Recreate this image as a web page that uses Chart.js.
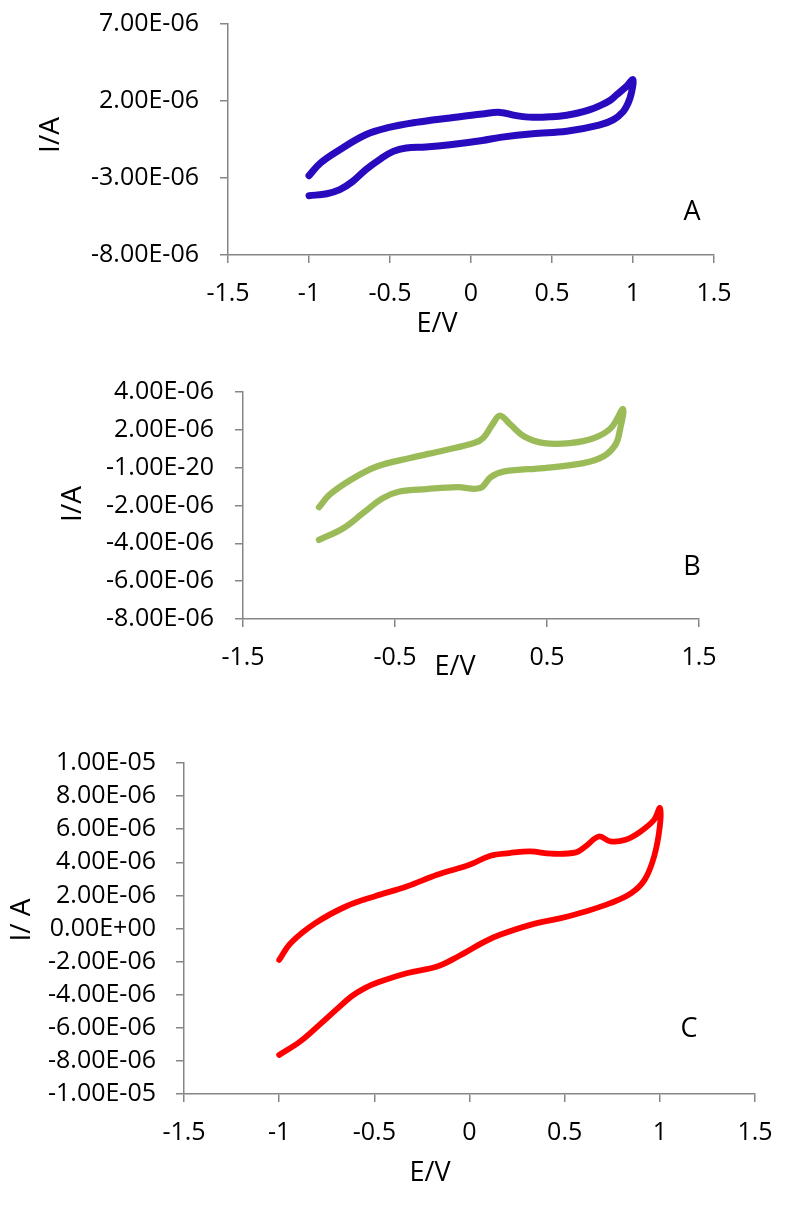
<!DOCTYPE html>
<html lang="en">
<head>
<meta charset="UTF-8">
<title>Voltammograms A, B, C</title>
<style>
  body { margin: 0; background: #fff; width: 800px; height: 1226px; position: relative; overflow: hidden; }
  canvas { position: absolute; left: 0; }
</style>
</head>
<body>
<canvas id="chartA" width="800" height="361" style="top:-16px"></canvas>
<canvas id="chartB" width="800" height="350" style="top:350px"></canvas>
<canvas id="chartC" width="800" height="506" style="top:720px"></canvas>

<script src="https://cdn.jsdelivr.net/npm/chart.js@4.4.0/dist/chart.umd.min.js"></script>
<script>
// potentials in V, currents in microamps (converted to A when the datasets are built)
const eA = [-1.00, -0.93, -0.81, -0.65, -0.52, -0.34, -0.13, 0.07, 0.18, 0.28, 0.38, 0.50, 0.59, 0.66, 0.73, 0.80, 0.86, 0.90, 0.96, 1.00,
            0.99, 0.97, 0.94, 0.88, 0.79, 0.59, 0.38, 0.18, 0.07, -0.13, -0.28, -0.40, -0.48, -0.56, -0.65, -0.73, -0.81, -0.89, -1.00];
const iA = [-2.85, -2.03, -1.16, -0.19, 0.25, 0.61, 0.90, 1.16, 1.26, 1.05, 0.94, 0.98, 1.08, 1.22, 1.42, 1.72, 2.05, 2.41, 2.95, 3.38,
            2.52, 1.87, 1.32, 0.79, 0.43, 0.03, -0.12, -0.36, -0.56, -0.84, -0.99, -1.05, -1.27, -1.77, -2.46, -3.22, -3.76, -4.02, -4.15];

const eB = [-1.00, -0.93, -0.79, -0.62, -0.40, -0.18, 0.02, 0.08, 0.14, 0.19, 0.26, 0.35, 0.48, 0.65, 0.81, 0.92, 1.00,
            0.98, 0.95, 0.87, 0.74, 0.48, 0.22, 0.13, 0.06, -0.09, -0.29, -0.47, -0.58, -0.71, -0.84, -1.00];
const iB = [-2.09, -1.43, -0.64, 0.06, 0.51, 0.91, 1.30, 1.57, 2.27, 2.75, 2.27, 1.65, 1.30, 1.30, 1.57, 2.09, 3.10,
            2.00, 1.21, 0.59, 0.24, -0.02, -0.20, -0.50, -1.08, -1.03, -1.13, -1.26, -1.61, -2.40, -3.20, -3.82];

const eC = [-1.00, -0.94, -0.81, -0.65, -0.50, -0.33, -0.17, 0.00, 0.11, 0.21, 0.32, 0.43, 0.56, 0.61, 0.68, 0.74, 0.82, 0.90, 0.97, 1.00,
            1.00, 0.97, 0.92, 0.85, 0.74, 0.61, 0.48, 0.32, 0.16, 0.08, -0.06, -0.17, -0.33, -0.48, -0.55, -0.62, -0.70, -0.78, -0.89, -1.00];
const iC = [-1.90, -0.89, 0.32, 1.33, 1.94, 2.54, 3.25, 3.85, 4.40, 4.56, 4.66, 4.52, 4.60, 4.96, 5.56, 5.26, 5.36, 5.87, 6.57, 7.28,
            6.17, 4.35, 2.94, 2.14, 1.53, 1.03, 0.63, 0.22, -0.38, -0.79, -1.69, -2.30, -2.70, -3.25, -3.60, -4.10, -4.90, -5.73, -6.83, -7.64];

// axis ticks and their printed labels
const xTicksA = [-1.5, -1, -0.5, 0, 0.5, 1, 1.5];
const xLabelsA = ['-1.5', '-1', '-0.5', '0', '0.5', '1', '1.5'];
const xTicksB = [-1.5, -0.5, 0.5, 1.5];
const xLabelsB = ['-1.5', '-0.5', '0.5', '1.5'];
const xTicksC = [-1.5, -1, -0.5, 0, 0.5, 1, 1.5];
const xLabelsC = ['-1.5', '-1', '-0.5', '0', '0.5', '1', '1.5'];

const yTicksA = [-8e-6, -3e-6, 2e-6, 7e-6];
const yLabelsA = ['-8.00E-06', '-3.00E-06', '2.00E-06', '7.00E-06'];
const yTicksB = [-8e-6, -6e-6, -4e-6, -2e-6, -1e-20, 2e-6, 4e-6];
const yLabelsB = ['-8.00E-06', '-6.00E-06', '-4.00E-06', '-2.00E-06', '-1.00E-20', '2.00E-06', '4.00E-06'];
const yTicksC = [-1e-5, -8e-6, -6e-6, -4e-6, -2e-6, 0, 2e-6, 4e-6, 6e-6, 8e-6, 1e-5];
const yLabelsC = ['-1.00E-05', '-8.00E-06', '-6.00E-06', '-4.00E-06', '-2.00E-06', '0.00E+00',
                  '2.00E-06', '4.00E-06', '6.00E-06', '8.00E-06', '1.00E-05'];

const FONT = '"Open Sans", "Liberation Sans", sans-serif';
const AXIS_GREY = '#868686';

// free text on each panel: axis titles and panel letter
const panelText = {
    id: 'panelText',
    afterDraw(chart, args, opts) {
        const ctx = chart.ctx;
        ctx.save();
        ctx.fillStyle = '#000';
        ctx.textAlign = 'center';
        ctx.textBaseline = 'middle';
        opts.items.forEach(t => {
            ctx.save();
            ctx.font = t.size + 'px ' + FONT;
            ctx.translate(t.x, t.y);
            if (t.rotate) ctx.rotate(-Math.PI / 2);
            ctx.fillText(t.text, 0, 0);
            ctx.restore();
        });
        ctx.restore();
    }
};

function points(e, i) {
    return e.map((v, k) => ({ x: v, y: i[k] * 1e-6 }));
}

function makePanel(id, p) {
    const tickFont = { family: FONT, size: 25 };
    return new Chart(document.getElementById(id), {
        type: 'scatter',
        data: {
            datasets: [{
                label: p.name,
                data: points(p.e, p.i),
                showLine: true,
                borderColor: p.color,
                borderWidth: p.width,
                borderCapStyle: 'round',
                borderJoinStyle: 'round',
                pointRadius: 0,
                tension: 0.38,
                fill: false
            }]
        },
        options: {
            responsive: false,
            animation: false,
            layout: { padding: { top: p.padTop, right: p.padRight, left: 0, bottom: 0 } },
            plugins: {
                legend: { display: false },
                tooltip: { enabled: false },
                panelText: { items: p.texts }
            },
            scales: {
                x: {
                    type: 'linear',
                    min: -1.5,
                    max: 1.5,
                    afterBuildTicks: s => { s.ticks = p.xTicks.map(v => ({ value: v })); },
                    afterFit: s => { s.height = p.xHeight; },
                    ticks: {
                        callback: (v, idx) => p.xLabels[idx],
                        font: tickFont, color: '#000', padding: 16,
                        maxRotation: 0, autoSkip: false
                    },
                    grid: { drawOnChartArea: false, tickLength: 8, color: AXIS_GREY, lineWidth: 1.5 },
                    border: { color: AXIS_GREY, width: 1.5 }
                },
                y: {
                    type: 'linear',
                    min: p.yTicks[0],
                    max: p.yTicks[p.yTicks.length - 1],
                    afterBuildTicks: s => { s.ticks = p.yTicks.map(v => ({ value: v })); },
                    afterFit: s => { s.width = p.yWidth; },
                    ticks: {
                        callback: (v, idx) => p.yLabels[idx],
                        font: tickFont, color: '#000', padding: p.yPad,
                        autoSkip: false
                    },
                    grid: { drawOnChartArea: false, tickLength: 8, color: AXIS_GREY, lineWidth: 1.5 },
                    border: { color: AXIS_GREY, width: 1.5 }
                }
            }
        },
        plugins: [panelText]
    });
}

// canvas A starts at page y = -16, B at 350, C at 720 (text positions are canvas-relative)
makePanel('chartA', {
    name: 'A', e: eA, i: iA, color: '#2A0ABF', width: 7,
    xTicks: xTicksA, xLabels: xLabelsA, yTicks: yTicksA, yLabels: yLabelsA,
    padTop: 40, padRight: 86, yWidth: 228, xHeight: 90, yPad: 21,
    texts: [
        { text: 'I/A', x: 51, y: 151, size: 28, rotate: true },
        { text: 'E/V', x: 437, y: 340, size: 27 },
        { text: 'A', x: 692, y: 228, size: 27 }
    ]
});

makePanel('chartB', {
    name: 'B', e: eB, i: iB, color: '#9BBB59', width: 6.3,
    xTicks: xTicksB, xLabels: xLabelsB, yTicks: yTicksB, yLabels: yLabelsB,
    padTop: 42, padRight: 101, yWidth: 243, xHeight: 81, yPad: 21,
    texts: [
        { text: 'I/A', x: 73, y: 154, size: 28, rotate: true },
        { text: 'E/V', x: 455, y: 317, size: 27 },
        { text: 'B', x: 692, y: 217, size: 27 }
    ]
});

makePanel('chartC', {
    name: 'C', e: eC, i: iC, color: '#FF0000', width: 5.8,
    xTicks: xTicksC, xLabels: xLabelsC, yTicks: yTicksC, yLabels: yLabelsC,
    padTop: 43, padRight: 45, yWidth: 184, xHeight: 132, yPad: 20,
    texts: [
        { text: 'I/ A', x: 22, y: 200, size: 28, rotate: true },
        { text: 'E/V', x: 430, y: 453, size: 27 },
        { text: 'C', x: 689, y: 309, size: 27 }
    ]
});
</script>
</body>
</html>
